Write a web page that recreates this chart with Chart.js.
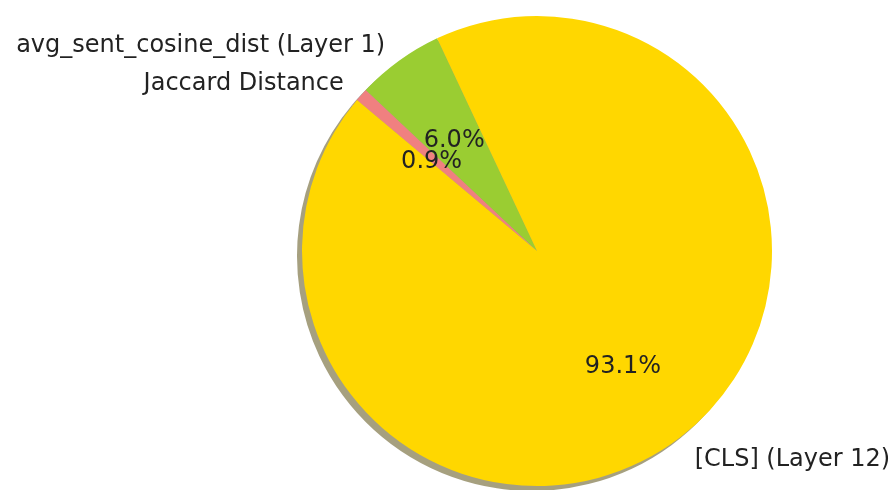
<!DOCTYPE html>
<html>
<head>
<meta charset="utf-8">
<script src="https://cdn.jsdelivr.net/npm/chart.js@4"></script>
<style>
  html, body { margin: 0; padding: 0; background: #fff; overflow: hidden; }
</style>
</head>
<body>
<canvas id="pieMetrics" width="893" height="490"></canvas>
<script>
// slices listed clockwise from the start angle
const labels = ["Jaccard Distance", "avg_sent_cosine_dist (Layer 1)", "[CLS] (Layer 12)"];
const values = [0.9, 6.0, 93.1];
const colors = ["#F08080", "#9ACD32", "#FFD700"];

const FONT = "DejaVu Sans";

// darker offset copy of each wedge, drawn under the pie
const pieShadow = {
    id: 'pieShadow',
    beforeDatasetsDraw(chart) {
        const ctx = chart.ctx;
        const arcs = chart.getDatasetMeta(0).data;
        ctx.save();
        arcs.forEach((arc, i) => {
            const c = Chart.helpers.color(colors[i]).rgb;
            ctx.fillStyle = 'rgba(' + Math.round(c.r * 0.3) + ',' + Math.round(c.g * 0.3) + ',' + Math.round(c.b * 0.3) + ',0.5)';
            ctx.beginPath();
            ctx.moveTo(arc.x - 5, arc.y + 5);
            ctx.arc(arc.x - 5, arc.y + 5, arc.outerRadius, arc.startAngle, arc.endAngle);
            ctx.closePath();
            ctx.fill();
        });
        ctx.restore();
    }
};

// slice names outside the pie, percentages inside
const pieText = {
    id: 'pieText',
    afterDatasetsDraw(chart) {
        const ctx = chart.ctx;
        const arcs = chart.getDatasetMeta(0).data;
        const total = values.reduce((a, b) => a + b, 0);
        ctx.save();
        ctx.fillStyle = '#222';
        ctx.textBaseline = 'middle';
        ctx.font = '24px "' + FONT + '"';
        arcs.forEach((arc, i) => {
            const mid = (arc.startAngle + arc.endAngle) / 2;
            const r = arc.outerRadius;
            const cx = Math.cos(mid), cy = Math.sin(mid);

            ctx.textAlign = cx < 0 ? 'right' : 'left';
            ctx.fillText(labels[i], arc.x + 1.1 * r * cx, arc.y + 1.1 * r * cy + 4);

            ctx.textAlign = 'center';
            ctx.fillText((values[i] / total * 100).toFixed(1) + '%', arc.x + 0.6 * r * cx, arc.y + 0.6 * r * cy + 4);
        });
        ctx.restore();
    }
};

new Chart(document.getElementById("pieMetrics").getContext('2d'), {
    type: 'pie',
    data: {
        labels: labels,
        datasets: [{
            data: values,
            backgroundColor: colors,
            borderWidth: 0,
            hoverOffset: 0,
            offset: 0
        }]
    },
    options: {
        responsive: false,
        animation: false,
        rotation: -50,
        layout: {
            padding: { left: 302, right: 121, top: 16, bottom: 4 }
        },
        plugins: {
            legend: { display: false },
            tooltip: { enabled: false }
        }
    },
    plugins: [pieShadow, pieText]
});
</script>
</body>
</html>
